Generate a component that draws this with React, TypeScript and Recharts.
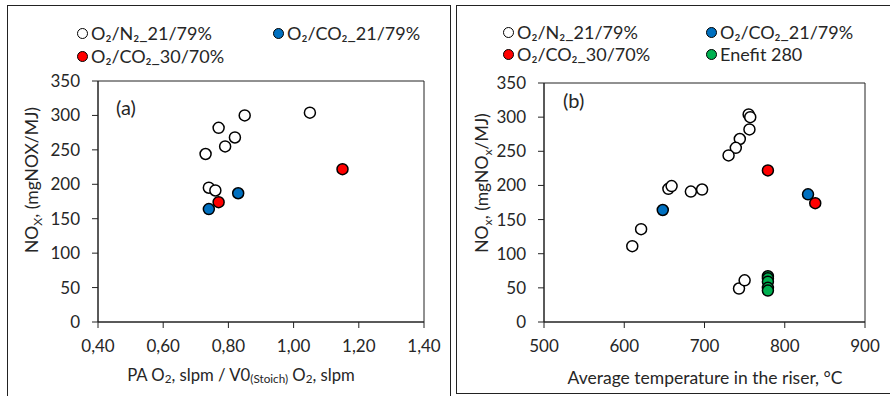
import React from 'react';
import { ScatterChart, Scatter, XAxis, YAxis, ReferenceArea } from 'recharts';

// (a) NOx vs primary air O2 ratio
const aN2X = [1.05, 0.85, 0.77, 0.82, 0.79, 0.73, 0.74, 0.76];
const aN2Y = [304, 300, 282, 268, 255, 244, 195, 191];
const aCo21X = [0.83, 0.74];
const aCo21Y = [187, 164];
const aCo30X = [1.15, 0.77];
const aCo30Y = [222, 174];

// (b) NOx vs riser temperature
const bN2X = [755, 757, 756, 744, 739, 730, 655, 659, 683, 697, 610, 621, 743, 750];
const bN2Y = [304, 300, 282, 268, 255, 244, 195, 199, 191, 194, 111, 136, 49, 61];
const bCo21X = [829, 648];
const bCo21Y = [187, 164];
const bCo30X = [779, 838];
const bCo30Y = [222, 174];
const bEnefitX = [779, 779, 779, 779, 779];
const bEnefitY = [67, 64, 59, 50, 46];

const aTicksX = [0.4, 0.6, 0.8, 1.0, 1.2, 1.4];
const bTicksX = [500, 600, 700, 800, 900];
const ticksY = [0, 50, 100, 150, 200, 250, 300, 350];

const FONT = "Lato, 'Noto Sans', sans-serif";
const INK = '#262626';
const AXIS = '#222';

const series = {
  n2: { label: 'O₂/N₂_21/79%', fill: '#fff' },
  co21: { label: 'O₂/CO₂_21/79%', fill: '#0070C0' },
  co30: { label: 'O₂/CO₂_30/70%', fill: '#FF0000' },
  enefit: { label: 'Enefit 280', fill: '#00B050' },
};

const toPts = (xs: number[], ys: number[]) => xs.map((x, i) => ({ x, y: ys[i] }));

const dot = (fill: string) => (p: any) => (
  <circle cx={p.cx} cy={p.cy} r={5.5} fill={fill} stroke="#000" strokeWidth={1.5} />
);

const tickStyle = { fontSize: 17, fill: INK, fontFamily: FONT };

const Marker = ({ fill }: { fill: string }) => (
  <span style={{
    display: 'inline-block', width: 9, height: 9, borderRadius: '50%', background: fill,
    border: '1.5px solid #000', marginRight: 3, verticalAlign: 'middle',
  }} />
);

const LegendItem = ({ s, left, top }: { s: { label: string; fill: string }; left: number; top: number }) => (
  <div style={{ position: 'absolute', left, top, fontFamily: FONT, fontSize: 18, color: INK, lineHeight: '20px', whiteSpace: 'nowrap' }}>
    <Marker fill={s.fill} />
    <span style={{ verticalAlign: 'middle' }}>{s.label}</span>
  </div>
);

const Abs = ({ left, top, children, style }: any) => (
  <div style={{ position: 'absolute', left, top, fontFamily: FONT, color: INK, whiteSpace: 'nowrap', ...style }}>{children}</div>
);

const sub = { fontSize: '0.7em', verticalAlign: '-0.25em' };

export default function App() {
  return (
    <div style={{ position: 'absolute', left: 0, top: 0, width: 890, height: 396, overflow: 'hidden', background: '#fff' }}>
      {/* panel frames */}
      <div style={{ position: 'absolute', left: 7, top: 5, width: 442, height: 400, border: '1.5px solid #222', borderBottom: 'none' }} />
      <div style={{ position: 'absolute', left: 456, top: 5, width: 440, height: 387, border: '1.5px solid #222' }} />

      {/* panel (a) */}
      <div style={{ position: 'absolute', left: 0, top: 0 }}>
        <ScatterChart width={450} height={396} margin={{ top: 81, right: 26, left: 38, bottom: 24 }}>
          <XAxis type="number" dataKey="x" domain={[0.4, 1.4]} ticks={aTicksX} tick={tickStyle}
            tickFormatter={(v: number) => v.toFixed(2).replace('.', ',')}
            stroke={AXIS} tickSize={6} tickMargin={12} height={50} allowDataOverflow />
          <YAxis type="number" dataKey="y" domain={[0, 350]} ticks={ticksY} tick={tickStyle}
            stroke={AXIS} tickSize={6} tickMargin={12} width={60} />
          <ReferenceArea x1={0.4} x2={1.4} y1={0} y2={350} fill="none" stroke={AXIS} strokeWidth={1} ifOverflow="visible" />
          <Scatter data={toPts(aN2X, aN2Y)} shape={dot(series.n2.fill)} isAnimationActive={false} />
          <Scatter data={toPts(aCo21X, aCo21Y)} shape={dot(series.co21.fill)} isAnimationActive={false} />
          <Scatter data={toPts(aCo30X, aCo30Y)} shape={dot(series.co30.fill)} isAnimationActive={false} />
        </ScatterChart>
      </div>

      {/* panel (b) */}
      <div style={{ position: 'absolute', left: 450, top: 0 }}>
        <ScatterChart width={440} height={396} margin={{ top: 83, right: 25, left: 34, bottom: 24 }}>
          <XAxis type="number" dataKey="x" domain={[500, 900]} ticks={bTicksX} tick={tickStyle}
            stroke={AXIS} tickSize={6} tickMargin={12} height={50} />
          <YAxis type="number" dataKey="y" domain={[0, 350]} ticks={ticksY} tick={tickStyle}
            stroke={AXIS} tickSize={6} tickMargin={12} width={60} />
          <ReferenceArea x1={500} x2={900} y1={0} y2={350} fill="none" stroke={AXIS} strokeWidth={1} ifOverflow="visible" />
          <Scatter data={toPts(bN2X, bN2Y)} shape={dot(series.n2.fill)} isAnimationActive={false} />
          <Scatter data={toPts(bCo21X, bCo21Y)} shape={dot(series.co21.fill)} isAnimationActive={false} />
          <Scatter data={toPts(bCo30X, bCo30Y)} shape={dot(series.co30.fill)} isAnimationActive={false} />
          <Scatter data={toPts(bEnefitX, bEnefitY)} shape={dot(series.enefit.fill)} isAnimationActive={false} />
        </ScatterChart>
      </div>

      {/* legends */}
      <LegendItem s={series.n2} left={77} top={21} />
      <LegendItem s={series.co21} left={273} top={21} />
      <LegendItem s={series.co30} left={77} top={44} />
      <LegendItem s={series.n2} left={503} top={20} />
      <LegendItem s={series.co21} left={706} top={20} />
      <LegendItem s={series.co30} left={503} top={42} />
      <LegendItem s={series.enefit} left={706} top={42} />

      {/* panel labels */}
      <Abs left={116} top={95} style={{ fontSize: 20 }}>(a)</Abs>
      <Abs left={563} top={88} style={{ fontSize: 20 }}>(b)</Abs>

      {/* y titles */}
      <Abs left={33} top={180} style={{ fontSize: 17.5, transform: 'translate(-50%, -50%) rotate(-90deg)' }}>
        NO<span style={sub}>X</span>, (mgNOX/MJ)
      </Abs>
      <Abs left={483} top={183} style={{ fontSize: 17.5, transform: 'translate(-50%, -50%) rotate(-90deg)' }}>
        NO<span style={sub}>x</span>, (mgNO<span style={sub}>x</span>/MJ)
      </Abs>

      {/* x titles */}
      <Abs left={241} top={375} style={{ fontSize: 16.7, transform: 'translate(-50%, -50%)' }}>
        PA O<span style={sub}>2</span>, slpm / V0<span style={sub}>(Stoich)</span> O<span style={sub}>2</span>, slpm
      </Abs>
      <Abs left={705} top={377} style={{ fontSize: 17.5, transform: 'translate(-50%, -50%)' }}>
        Average temperature in the riser, °C
      </Abs>
    </div>
  );
}
